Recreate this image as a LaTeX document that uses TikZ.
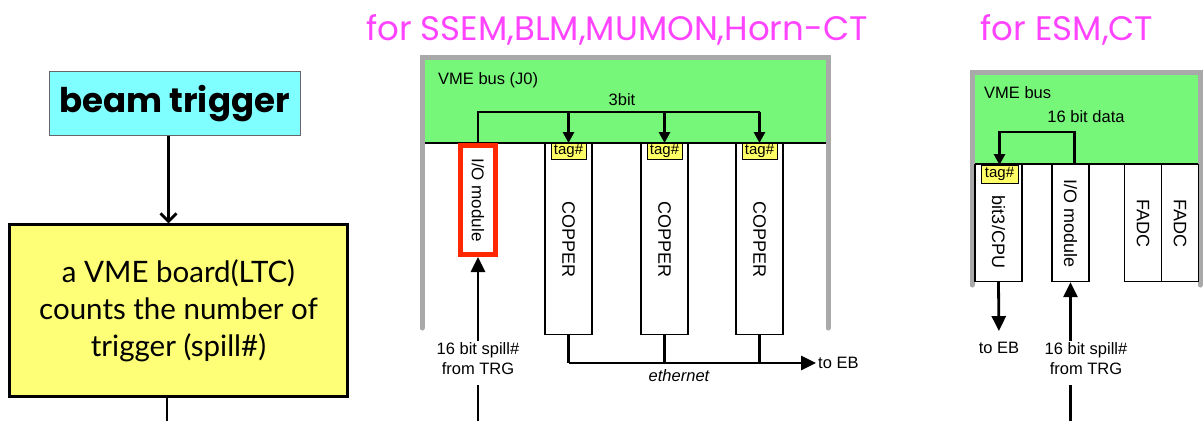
\documentclass[tikz,border=0pt]{standalone}
\usepackage{fontspec}
\setmainfont{Liberation Sans}
\newfontfamily\comicfont{Poppins}
\newfontfamily\gillfont{Lato}
\usepackage{graphicx}
\usetikzlibrary{arrows.meta}

\definecolor{trigcyan}{RGB}{127,255,255}
\definecolor{ltcyellow}{RGB}{255,255,119}
\definecolor{tagyellow}{RGB}{255,255,102}
\definecolor{busgreen}{RGB}{119,247,122}
\definecolor{crategray}{RGB}{169,169,169}
\definecolor{iored}{RGB}{255,40,0}
\definecolor{titlepink}{RGB}{255,68,255}

\tikzset{
  lbl/.style={font=\fontsize{16.5}{20}\selectfont, inner sep=2pt},
  card/.style={draw, fill=white, line width=1.2pt, anchor=north, minimum width=47pt,
               inner sep=0pt, font=\fontsize{18}{20}\selectfont},
  tagbox/.style={draw, fill=tagyellow, line width=0.8pt, anchor=north, minimum width=35pt,
                 minimum height=16pt, inner sep=0pt, font=\fontsize{15}{15}\selectfont},
  wire/.style={line width=2.8pt},
  sig/.style={wire, -{Triangle[length=15pt,width=14pt]}},
  crate/.style={line width=5pt, draw=crategray, line cap=round},
  title/.style={text=titlepink, font=\comicfont\fontsize{34}{38}\selectfont},
}

\begin{document}
\begin{tikzpicture}[x=1pt, y=-1pt]
    \useasboundingbox (0,0) rectangle (1203,421);

    % LTC side
    \node[draw=black!60, fill=trigcyan, minimum width=251pt, minimum height=64pt,
          font=\comicfont\bfseries\fontsize{34}{38}\selectfont] (trig) at (174.5,103.5) {beam trigger};
    \node[draw, line width=2.5pt, fill=ltcyellow, minimum width=338pt, minimum height=172pt,
          align=center, font=\gillfont\fontsize{29.5}{37}\selectfont] (ltc) at (178.5,310.5)
          {a VME board(LTC)\\counts the number of\\trigger (spill\#)};
    \draw[wire, -{Straight Barb[length=8pt,width=16pt]}]
        ([xshift=-6pt]trig.south) -- ([xshift=-6pt]trig.south |- ltc.north);
    \coordinate (ltcout) at (167,421);
    \draw[wire] (ltcout |- ltc.south) -- (ltcout);

    % titles
    \node[title] (titleA) at (617,30) {for SSEM,BLM,MUMON,Horn-CT};
    \node[title] (titleB) at (1067,30) {for ESM,CT};

    % crate for SSEM etc.
    \fill[busgreen] (424,60) rectangle (826,143);
    \draw[line width=1.5pt] (424,143) -- (826,143);
    \draw[crate] (422,328) -- (422,57) -- (828,57) -- (828,328);
    \node[lbl, anchor=west] (vmeA) at (436,80) {VME bus (J0)};
    \node[lbl] (bitA) at (622,100) {3bit};

    \node[draw=iored, fill=white, line width=5pt, minimum width=35pt, minimum height=109pt,
          inner sep=0pt, font=\fontsize{17}{20}\selectfont] (ioA) at (478,200)
          {\rotatebox{-90}{I/O module}};
    \foreach \cx/\nm in {568.5/cpA, 664.5/cpB, 759.5/cpC} {
        \node[card, minimum height=191pt] (\nm) at (\cx,143) {\rotatebox{-90}{COPPER}};
        \node[tagbox] (tag\nm) at (\cx,143) {tag\#};
    }

    % 3bit bus
    \coordinate (busA) at (0,112);
    \draw[wire] (ioA.north) -- (ioA.north |- busA) -- (tagcpC.north |- busA);
    \foreach \nm in {cpA, cpB, cpC}
        \draw[wire, -{Triangle[length=11pt,width=11pt]}] (tag\nm.north |- busA) -- (tag\nm.north);

    % spill input
    \node[lbl, align=center] (spillA) at (478,359) {16 bit spill\#\\from TRG};
    \draw[sig] (spillA.north) -- (ioA.south);
    \coordinate (inA) at (478,421);
    \draw[wire] (inA |- spillA.south) ++(0,8) -- (inA);

    % ethernet
    \coordinate (eth) at (0,363);
    \node[lbl, anchor=west] (ebA) at (816,363) {to EB};
    \foreach \nm in {cpA, cpB, cpC}
        \draw[wire] (\nm.south) -- (\nm.south |- eth);
    \draw[sig] (cpA.south |- eth) -- (ebA.west);
    \node[lbl, font=\fontsize{16.5}{20}\selectfont\itshape] (ethlbl) at (679,376) {ethernet};

    % crate for ESM, CT
    \fill[busgreen] (974,74) rectangle (1201,164);
    \draw[line width=1.5pt] (974,164) -- (1201,164);
    \draw[crate] (972,285) -- (972,72) -- (1200,72) -- (1200,285);
    \node[lbl, anchor=west] (vmeB) at (982,93) {VME bus};
    \node[lbl] (dataB) at (1086,117) {16 bit data};

    \node[card, minimum height=117pt] (cpu) at (998.5,164) {};
    \node[tagbox, minimum width=37pt, minimum height=18pt] (tagcpu) at (999.5,165) {tag\#};
    \node[lbl, font=\fontsize{18}{20}\selectfont] (cpulbl) at (998.5,232) {\rotatebox{-90}{bit3/CPU}};
    \node[card, minimum width=37pt, minimum height=117pt] (ioB) at (1070.5,164) {\rotatebox{-90}{I/O module}};
    \foreach \cx/\nm in {1143/adcA, 1180/adcB}
        \node[card, minimum width=37pt, minimum height=117pt] (\nm) at (\cx,164) {\rotatebox{-90}{FADC}};

    % 16 bit data bus
    \coordinate (busB) at (0,132);
    \draw[wire, -{Triangle[length=11pt,width=11pt]}]
        ([xshift=4pt]ioB.north) -- ([xshift=4pt]ioB.north |- busB) -| (tagcpu.north);

    % in and out
    \node[lbl] (ebB) at (999,348) {to EB};
    \draw[sig, shorten >=9pt] (cpu.south) -- (ebB.north);
    \node[lbl, align=center] (spillB) at (1086,359) {16 bit spill\#\\from TRG};
    \draw[sig] (ioB.south |- spillB.north) -- (ioB.south);
    \coordinate (inB) at (1070.5,421);
    \draw[wire] (inB |- spillB.south) ++(0,8) -- (inB);
\end{tikzpicture}
\end{document}
